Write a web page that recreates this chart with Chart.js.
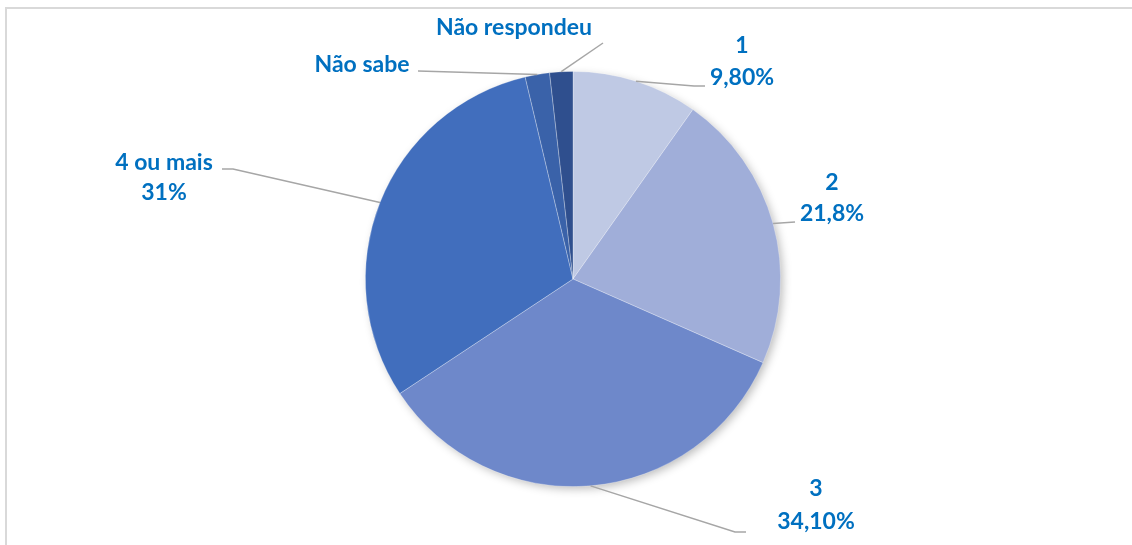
<!DOCTYPE html>
<html>
<head>
<meta charset="utf-8">
<script src="https://cdn.jsdelivr.net/npm/chart.js@4/dist/chart.umd.min.js"></script>
<style>
  html, body { margin: 0; padding: 0; background: #ffffff; }
  #wrap { position: relative; width: 1132px; height: 545px; }
  canvas { display: block; }
</style>
</head>
<body>
<div id="wrap"><canvas id="c" width="1132" height="545"></canvas></div>
<script>
// ---- data ----
const categories = ['1', '2', '3', '4 ou mais', 'Não sabe', 'Não respondeu'];
const values = [9.8, 21.8, 34.1, 30.6, 1.9, 1.8];
const valueLabels = ['9,80%', '21,8%', '34,10%', '31%', '', ''];

// ---- styles / layout ----
const sliceColors = ['#bfc9e4', '#a0aed9', '#6e88ca', '#416ebd', '#3a62a9', '#2f4f8e'];
const labelColor = '#0070c0';
const labelFont = 'bold 23px Lato, "Open Sans", sans-serif';
const leaderColor = '#a6a6a6';
// label anchors (text centre x, first-line y) and leader-line points after the arc point
const labelLayout = [
  { x: 742, y: 46, lh: 32, path: [[694, 86], [705, 86]] },
  { x: 832, y: 183, lh: 31, path: [[795, 222]] },
  { x: 816, y: 489, lh: 33, path: [[735, 532], [746, 532]] },
  { x: 164, y: 163, lh: 30, path: [[233, 169], [222, 169]] },
  { x: 362, y: 65, lh: 30, path: [[418, 71]] },
  { x: 514, y: 28, lh: 30, path: [[603, 43]] }
];

const framePlugin = {
  id: 'frame',
  beforeDraw(chart) {
    const ctx = chart.ctx;
    ctx.save();
    ctx.strokeStyle = '#d9d9d9';
    ctx.lineWidth = 2;
    ctx.beginPath();
    ctx.moveTo(6, 560);
    ctx.lineTo(6, 8);
    ctx.lineTo(1140, 8);
    ctx.stroke();
    ctx.restore();
  }
};

const shadowPlugin = {
  id: 'pieShadow',
  beforeDatasetsDraw(chart) {
    const arc = chart.getDatasetMeta(0).data[0];
    if (!arc) return;
    const ctx = chart.ctx;
    ctx.save();
    ctx.shadowColor = 'rgba(0,0,0,0.28)';
    ctx.shadowBlur = 10;
    ctx.shadowOffsetX = 3;
    ctx.shadowOffsetY = 3;
    ctx.fillStyle = '#ffffff';
    ctx.beginPath();
    ctx.arc(arc.x, arc.y, arc.outerRadius - 1, 0, Math.PI * 2);
    ctx.fill();
    ctx.restore();
  }
};

const labelPlugin = {
  id: 'sliceLabels',
  afterDatasetsDraw(chart) {
    const ctx = chart.ctx;
    const meta = chart.getDatasetMeta(0);
    meta.data.forEach((arc, i) => {
      const L = labelLayout[i];
      const mid = (arc.startAngle + arc.endAngle) / 2;
      const sx = arc.x + Math.cos(mid) * arc.outerRadius;
      const sy = arc.y + Math.sin(mid) * arc.outerRadius;
      ctx.save();
      ctx.strokeStyle = leaderColor;
      ctx.lineWidth = 1.5;
      ctx.beginPath();
      ctx.moveTo(sx, sy);
      L.path.forEach(p => ctx.lineTo(p[0], p[1]));
      ctx.stroke();
      ctx.fillStyle = labelColor;
      ctx.font = labelFont;
      ctx.textAlign = 'center';
      ctx.textBaseline = 'middle';
      const lines = [categories[i]];
      if (valueLabels[i]) lines.push(valueLabels[i]);
      lines.forEach((t, k) => ctx.fillText(t, L.x, L.y + k * L.lh));
      ctx.restore();
    });
  }
};

new Chart(document.getElementById('c'), {
  type: 'pie',
  data: {
    labels: categories,
    datasets: [{
      data: values,
      backgroundColor: sliceColors,
      borderColor: 'rgba(255,255,255,0.35)',
      borderWidth: 0.8
    }]
  },
  options: {
    responsive: false,
    animation: false,
    layout: { padding: { top: 71, bottom: 58, left: 200, right: 186 } },
    plugins: { legend: { display: false }, tooltip: { enabled: false } }
  },
  plugins: [framePlugin, shadowPlugin, labelPlugin]
});
</script>
</body>
</html>
